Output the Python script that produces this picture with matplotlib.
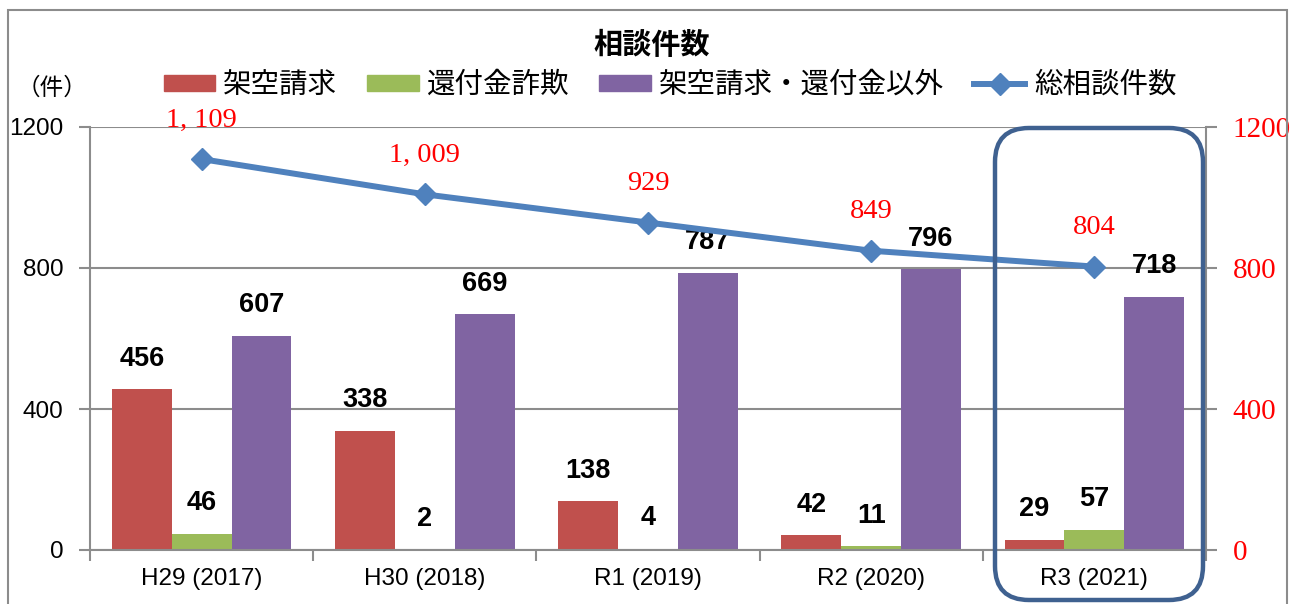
import matplotlib
matplotlib.use("Agg")
import matplotlib.pyplot as plt
from matplotlib.patches import Rectangle, FancyBboxPatch
from matplotlib.lines import Line2D
from matplotlib.transforms import Affine2D

categories = ["H29 (2017)", "H30 (2018)", "R1 (2019)", "R2 (2020)", "R3 (2021)"]
kakuu = [456, 338, 138, 42, 29]
kanpu = [46, 2, 4, 11, 57]
other = [607, 669, 787, 796, 718]
total = [1109, 1009, 929, 849, 804]
series_names = ["架空請求", "還付金詐欺", "架空請求・還付金以外", "総相談件数"]
yticks = [0, 400, 800, 1200]

sans = "Liberation Sans"
cjk = "Noto Sans CJK JP"
serif = "Liberation Serif"

W, H = 1292, 604
fig = plt.figure(figsize=(W / 100, H / 100), dpi=100)
px = Affine2D().scale(1 / W, 1 / H) + fig.transFigure

# outer frame
fig.patches.append(Rectangle((8, -10), 1279, 604, transform=px, fill=False,
                             edgecolor="#8c8c8c", linewidth=1.5))

ax = fig.add_axes([90 / W, 1 - 550 / H, (1206 - 90) / W, (550 - 127) / H])
ax2 = ax.twinx()

c_red, c_green, c_purple, c_line = "#C0504D", "#9BBB59", "#8064A2", "#4F81BD"
bw = 0.268
x = list(range(len(categories)))
b1 = ax.bar([i - bw for i in x], kakuu, bw, color=c_red, zorder=2)
b2 = ax.bar(x, kanpu, bw, color=c_green, zorder=2)
b3 = ax.bar([i + bw for i in x], other, bw, color=c_purple, zorder=2)

lbl_font = dict(family=sans, fontsize=19.5, fontweight="bold", color="black")
for bars, vals in ((b1, kakuu), (b2, kanpu), (b3, other)):
    for r, v in zip(bars, vals):
        ax.annotate(f"{v}", (r.get_x() + r.get_width() / 2, v), xytext=(0, 22),
                    textcoords="offset points", ha="center", va="center", **lbl_font)

ax.set_xlim(-0.5, len(categories) - 0.5)
ax.set_ylim(0, 1200)
ax.set_yticks(yticks)
ax.set_yticklabels([str(t) for t in yticks], family=sans, fontsize=17.5)
ax.yaxis.grid(True, color="#8c8c8c", linewidth=1.5, zorder=0)
ax.set_axisbelow(True)
ax.set_xticks(x)
ax.set_xticklabels(categories, family=sans, fontsize=17.5)
ax.set_xticks([i - 0.5 for i in range(len(categories) + 1)], minor=True)
ax.tick_params(axis="x", which="major", length=0, pad=13)
ax.tick_params(axis="x", which="minor", length=8, width=1.5, color="#8c8c8c", direction="out")
ax.tick_params(axis="y", length=8, width=1.5, color="#8c8c8c", pad=11)
for s in ("left", "right", "bottom"):
    ax.spines[s].set_color("#8c8c8c")
    ax.spines[s].set_linewidth(1.5)
ax.spines["top"].set_visible(False)

ax2.set_ylim(0, 1200)
ax2.set_yticks(yticks)
ax2.set_yticklabels([str(t) for t in yticks], family=serif, fontsize=21, color="red")
ax2.tick_params(axis="y", length=8, width=1.5, color="#8c8c8c", pad=11)
for s in ax2.spines.values():
    s.set_visible(False)
ax2.plot(x, total, color=c_line, linewidth=4.3, marker="D", markersize=11, zorder=3)
for i, v in zip(x, total):
    ax2.annotate(f"{v:,}".replace(",", ", "), (i, v), xytext=(0, 28), textcoords="offset points",
                 ha="center", va="center", family=serif, fontsize=20.5, color="red")

# highlight box around last category
fig.patches.append(FancyBboxPatch((995, H - 600), 208, 472, transform=px,
                                  boxstyle="round,pad=0,rounding_size=34",
                                  fill=False, edgecolor="#3F6190", linewidth=3.2, zorder=5))

fig.text(652 / W, 1 - 45 / H, "相談件数", ha="center", va="center",
         family=cjk, fontsize=21, fontweight="bold")
fig.text(52 / W, 1 - 88 / H, "（件）", ha="center", va="center", family=cjk, fontsize=17)

handles = [Rectangle((0, 0), 1, 1, color=c_red), Rectangle((0, 0), 1, 1, color=c_green),
           Rectangle((0, 0), 1, 1, color=c_purple),
           Line2D([], [], color=c_line, linewidth=4.3, marker="D", markersize=11)]
fig.legend(handles, series_names, loc="center", bbox_to_anchor=(670 / W, 1 - 85 / H),
           ncol=4, frameon=False, prop=dict(family=cjk, size=20.5), handlelength=1.8,
           handleheight=0.5, handletextpad=0.3, columnspacing=1.05, borderpad=0)

fig.savefig("out.png", dpi=100)
